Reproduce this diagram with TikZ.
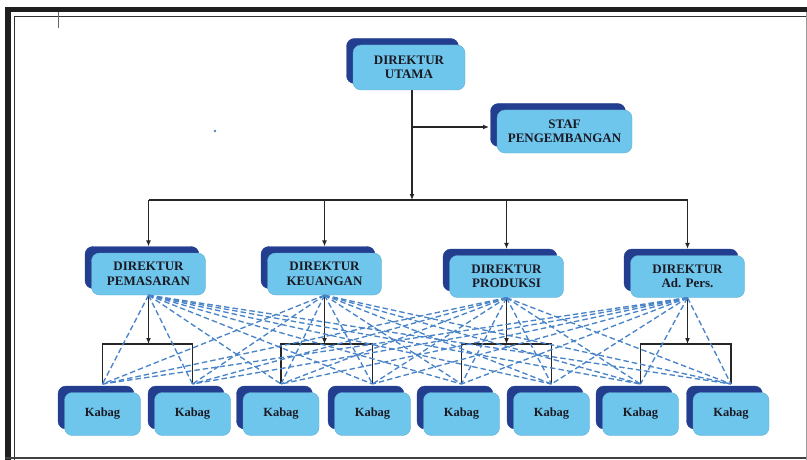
\documentclass[tikz,border=0pt]{standalone}
\usepackage{fontspec}
\setmainfont{Liberation Serif}
\usetikzlibrary{shadows,arrows.meta}
\definecolor{boxfill}{HTML}{6FC6EC}
\definecolor{boxshadow}{HTML}{233E8E}
\definecolor{dashblue}{HTML}{4A84C8}
\definecolor{txt}{HTML}{1A1A24}
\begin{document}
\begin{tikzpicture}[x=1pt,y=-1pt,
  orgbox/.style={draw=boxfill!88!black, line width=0.4pt, fill=boxfill, rounded corners=8pt,
    align=center, text=txt, inner sep=0pt,
    font=\bfseries\fontsize{13}{14.5}\selectfont,
    copy shadow={shadow xshift=-6.5pt, shadow yshift=6.5pt, fill=boxshadow, draw=boxshadow}},
  dirbox/.style={orgbox, minimum width=114pt, minimum height=42pt},
  kabbox/.style={orgbox, minimum width=76pt, minimum height=43pt, font=\bfseries\fontsize{12.5}{14}\selectfont},
  solidarrow/.style={draw=black!85, line width=1.3pt, -{Latex[length=6pt,width=5pt]}},
  bracket/.style={draw=black!85, line width=1.6pt},
  dashline/.style={draw=dashblue, line width=1.35pt, dash pattern=on 5.5pt off 3pt}]
\useasboundingbox (0,0) rectangle (807,460);
% frame
\fill[black!88] (5,7) rectangle (11,460);
\fill[black!88] (5,7) rectangle (807,12);
\draw[black!80, line width=0.8pt] (14,460) -- (14,16) -- (807,16);
\draw[black!75, line width=2pt] (5,457.5) -- (807,457.5);
\draw[black!40, line width=1pt] (806,12) -- (806,460);
\draw[black!60, line width=1pt] (58,12) -- (58,28);
\fill[dashblue] (215,131) circle (1.4pt);

% coordinates
\coordinate (top) at (412,90);
\coordinate (stafjoin) at (412,127);
\coordinate (bus) at (412,200);

\foreach \d/\x in {d1/148.5,d2/324.5,d3/506.5,d4/687.5}{
  \coordinate (\d top) at (\x,200);
  \coordinate (\d br) at (\x,344);
}
\draw[bracket] (148.5,200) -- (687.5,200);
\draw[solidarrow] (top) -- (bus);
\draw[solidarrow] (stafjoin) -- (489,127);

\foreach \k/\x in {k1/102.5,k2/192.5,k3/281,k4/372.5,k5/461.5,k6/551.5,k7/640.5,k8/731}{
  \coordinate (\k leg) at (\x,384);
  \coordinate (\k bar) at (\x,344);
}
\foreach \a/\b in {k1/k2,k3/k4,k5/k6,k7/k8}{
  \draw[bracket] (\a leg) -- (\a bar) -- (\b bar) -- (\b leg);
}

% nodes
\node[orgbox, minimum width=112pt, minimum height=45pt] (u) at (409,67.5) {DIREKTUR\\UTAMA};
\node[orgbox, minimum width=135pt, minimum height=43pt] (s) at (564.5,131.5) {STAF\\PENGEMBANGAN};
\node[dirbox] (d1) at (148.5,274) {DIREKTUR\\PEMASARAN};
\node[dirbox] (d2) at (324.5,274) {DIREKTUR\\KEUANGAN};
\node[dirbox] (d3) at (506.5,276.5) {DIREKTUR\\PRODUKSI};
\node[dirbox] (d4) at (687.5,276.5) {DIREKTUR\\Ad. Pers.};
\foreach \k/\x in {k1/102.5,k2/192.5,k3/281,k4/372.5,k5/461.5,k6/551.5,k7/640.5,k8/731}{
  \node[kabbox] (\k) at (\x,414) {Kabag};
}

% director arrows
\foreach \d in {d1,d2,d3,d4}{
  \draw[solidarrow] (\d top) -- ([yshift=6.5pt]\d.north);
  \draw[solidarrow] (\d.south) -- (\d br);
}
% dashed lines
\foreach \d in {d1,d2,d3,d4}{
  \foreach \k in {k1,k2,k3,k4,k5,k6,k7,k8}{
    \draw[dashline] (\d.south) -- (\k leg);
  }
}
\end{tikzpicture}
\end{document}
